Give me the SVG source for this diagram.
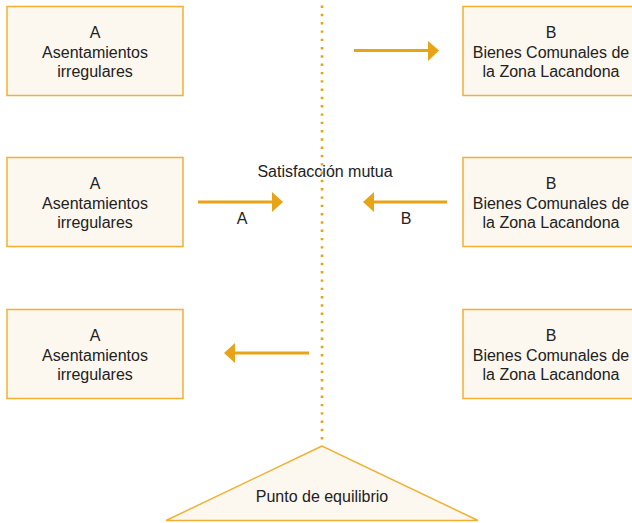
<svg xmlns="http://www.w3.org/2000/svg" width="632" height="523" viewBox="0 0 632 523">
<style>
.box{fill:#fcf7ef;stroke:#f0b133;stroke-width:1.5}
.t{font-family:"Liberation Sans",Arial,sans-serif;font-size:16px;fill:#222;text-anchor:middle}
.arr{stroke:#e8a317;stroke-width:3;fill:none}
.head{fill:#e8a317}
</style>
<rect width="632" height="523" fill="#fff"/>
<g id="divider">
<line x1="322" y1="5.5" x2="322" y2="444" stroke="#e8a317" stroke-width="2.6" stroke-dasharray="2.4 5.9"/>
</g>
<g id="base">
<polygon class="box" points="322,446 166,520.5 478,520.5"/>
<text class="t" x="322" y="502">Punto de equilibrio</text>
</g>
<g id="a1"><rect class="box" x="7" y="6.5" width="176" height="89"/>
<text class="t" x="95" y="38">A</text><text class="t" x="95" y="57.5">Asentamientos</text><text class="t" x="95" y="77">irregulares</text></g>
<g id="b1"><rect class="box" x="463" y="6.5" width="177" height="89"/>
<text class="t" x="551" y="38">B</text><text class="t" x="551" y="57.5">Bienes Comunales de</text><text class="t" x="551" y="77">la Zona Lacandona</text></g>
<g id="a2"><rect class="box" x="7" y="157.5" width="176" height="89"/>
<text class="t" x="95" y="189">A</text><text class="t" x="95" y="208.5">Asentamientos</text><text class="t" x="95" y="228">irregulares</text></g>
<g id="b2"><rect class="box" x="463" y="157.5" width="177" height="89"/>
<text class="t" x="551" y="189">B</text><text class="t" x="551" y="208.5">Bienes Comunales de</text><text class="t" x="551" y="228">la Zona Lacandona</text></g>
<g id="a3"><rect class="box" x="7" y="309.5" width="176" height="89"/>
<text class="t" x="95" y="341">A</text><text class="t" x="95" y="360.5">Asentamientos</text><text class="t" x="95" y="380">irregulares</text></g>
<g id="b3"><rect class="box" x="463" y="309.5" width="177" height="89"/>
<text class="t" x="551" y="341">B</text><text class="t" x="551" y="360.5">Bienes Comunales de</text><text class="t" x="551" y="380">la Zona Lacandona</text></g>
<g id="mutual"><text class="t" x="325" y="177">Satisfacción mutua</text></g>
<g id="connectors">
<line class="arr" x1="354" y1="50.5" x2="430" y2="50.5"/>
<polygon class="head" points="428,41 439,50.5 428,61"/>
<line class="arr" x1="198" y1="202" x2="274" y2="202"/>
<polygon class="head" points="272,192 283,202 272,212"/>
<text class="t" x="242" y="224">A</text>
<line class="arr" x1="447" y1="202" x2="372" y2="202"/>
<polygon class="head" points="374,192 363,202 374,212"/>
<text class="t" x="406" y="224">B</text>
<line class="arr" x1="309" y1="353" x2="233" y2="353"/>
<polygon class="head" points="235,343 224,353 235,363"/>
</g>
</svg>
